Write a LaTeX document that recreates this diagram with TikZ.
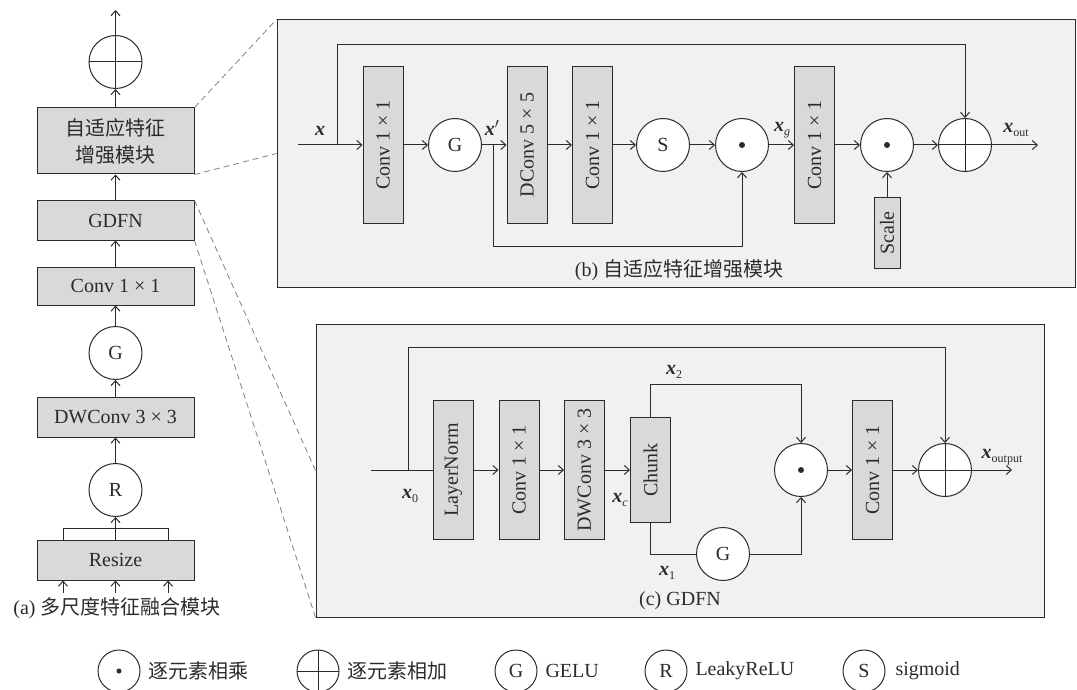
\documentclass[tikz,border=0pt]{standalone}
\usepackage{fontspec}
\usepackage{graphicx}
\setmainfont{Liberation Serif}
\newfontfamily\cjk{Noto Sans CJK SC}
\usetikzlibrary{arrows.meta}
\definecolor{linec}{HTML}{2B2B2B}
\definecolor{boxc}{HTML}{D9D9D9}
\definecolor{panelc}{HTML}{F0F1F3}
\newcommand{\bx}{{\bfseries\itshape x}}
\newcommand{\bxs}[1]{\bx\raisebox{-.5ex}{\fontsize{12}{12}\selectfont #1}}

\begin{document}
\begin{tikzpicture}[x=1pt,y=-1pt,color=linec,line width=1pt,font=\fontsize{20}{24}\selectfont,
 >={Straight Barb[length=5pt,width=9pt]},
 blk/.style={draw,fill=boxc,minimum width=157pt,inner sep=0pt,align=center},
 vblk/.style={draw,fill=boxc,minimum width=40pt,minimum height=157pt,inner sep=0pt},
 sblk/.style={draw,fill=boxc,minimum width=26pt,minimum height=70pt,inner sep=0pt},
 panel/.style={draw,fill=panelc,inner sep=0pt},
 op/.style={draw,fill=white,circle,minimum size=53pt,inner sep=0pt},
 addop/.style={op,path picture={\draw (path picture bounding box.north)--(path picture bounding box.south) (path picture bounding box.west)--(path picture bounding box.east);}},
 mulop/.style={op,path picture={\fill[linec] (path picture bounding box.center) circle (3pt);}},
 lop/.style={draw,circle,minimum size=42pt,inner sep=0pt},
 ladd/.style={lop,path picture={\draw (path picture bounding box.north)--(path picture bounding box.south) (path picture bounding box.west)--(path picture bounding box.east);}},
 lmul/.style={lop,path picture={\fill[linec] (path picture bounding box.center) circle (2.5pt);}},
 ltxt/.style={anchor=west,inner sep=0pt},
 zoomln/.style={draw=gray,line width=.8pt,dash pattern=on 6pt off 4pt}]
\useasboundingbox (0,0) rectangle (1077,690);
% (a) left column
\node[addop] (adda) at (115.5,62) {};
\node[blk,minimum height=66pt,font=\cjk\fontsize{20}{27}\selectfont] (aefe) at (115.5,141) {自适应特征\\增强模块};
\node[blk,minimum height=39pt] (gdfn) at (115.5,220.5) {GDFN};
\node[blk,minimum height=38pt] (conva) at (115.5,286) {Conv 1 × 1};
\node[op] (ga) at (115.5,353) {G};
\node[blk,minimum height=40pt] (dwa) at (115.5,417) {DWConv 3 × 3};
\node[op] (ra) at (115.5,490) {R};
\node[blk,minimum height=40pt] (resize) at (115.5,560) {Resize};
\coordinate (top) at (115.5,10);
\coordinate (brl) at (63,528);
\coordinate (brr) at (168,528);
\coordinate (in1) at (63,593);
\coordinate (in2) at (115.5,593);
\coordinate (in3) at (168,593);
\node (capa) at (117,608) {(a) {\cjk 多尺度特征融合模块}};
\foreach \i in {1,2,3} \draw[->] (in\i) -- (in\i |- resize.south);
\draw (brl |- resize.north) -- (brl) -- (brr) -- (brr |- resize.north);
\draw[->] (resize) -- (ra);
\draw[->] (ra) -- (dwa);
\draw[->] (dwa) -- (ga);
\draw[->] (ga) -- (conva);
\draw[->] (conva) -- (gdfn);
\draw[->] (gdfn) -- (aefe);
\draw[->] (aefe) -- (adda);
\draw[->] (adda) -- (top);
% (b) panel
\node[panel,minimum width=798pt,minimum height=267pt] (panb) at (676,153.5) {};
\draw[zoomln] (aefe.north east) -- (panb.north west);
\draw[zoomln] (aefe.south east) -- (panb.west);
\coordinate (inb) at (298,145);
\coordinate (skb) at (337,145);
\coordinate (xpb) at (493,145);
\coordinate (outb) at (1038,145);
\node[vblk] (cb1) at (383,145) {\rotatebox{90}{Conv 1 × 1}};
\node[op] (gb) at (455,145) {G};
\node[vblk] (dcb) at (527,145) {\rotatebox{90}{DConv 5 × 5}};
\node[vblk] (cb2) at (592.5,145) {\rotatebox{90}{Conv 1 × 1}};
\node[op] (sb) at (663,145) {S};
\node[mulop] (mb1) at (742,145) {};
\node[vblk] (cb3) at (814.5,145) {\rotatebox{90}{Conv 1 × 1}};
\node[mulop] (mb2) at (887,145) {};
\node[sblk] (scale) at (887,233) {\rotatebox{90}{Scale}};
\node[addop] (ab) at (965,145) {};
\node (lx) at (320,131) {\bx};
\node (lxp) at (492,128) {\bx$'$};
\node (lxg) at (782,130) {\bxs{\itshape g}};
\node (lxo) at (1016,130) {\bxs{out}};
\node (capb) at (679,270) {(b) {\cjk 自适应特征增强模块}};
\draw[->] (inb) -- (cb1);
\draw[->] (skb) -- ++(0,-100) -| (ab);
\draw[->] (cb1) -- (gb);
\draw[->] (gb) -- (dcb);
\draw[->] (xpb) -- ++(0,101) -| (mb1);
\draw[->] (dcb) -- (cb2);
\draw[->] (cb2) -- (sb);
\draw[->] (sb) -- (mb1);
\draw[->] (mb1) -- (cb3);
\draw[->] (cb3) -- (mb2);
\draw[->] (scale) -- (mb2);
\draw[->] (mb2) -- (ab);
\draw[->] (ab) -- (outb);
% (c) panel
\node[panel,minimum width=728pt,minimum height=293pt] (panc) at (680,470.5) {};
\draw[zoomln] (gdfn.north east) -- (panc.west);
\draw[zoomln] (gdfn.south east) -- (panc.south west);
\coordinate (inc) at (371,470);
\coordinate (skc) at (408,470);
\coordinate (outc) at (1012,470);
\node[vblk,minimum height=139pt] (ln) at (453.5,470) {\rotatebox{90}{LayerNorm}};
\node[vblk,minimum height=139pt] (cc1) at (519,470) {\rotatebox{90}{Conv 1 × 1}};
\node[vblk,minimum height=139pt] (dwc) at (584.5,470) {\rotatebox{90}{DWConv 3 × 3}};
\node[vblk,minimum height=105pt] (chunk) at (650.5,470) {\rotatebox{90}{Chunk}};
\node[mulop] (mc) at (801,470) {};
\node[op] (gc) at (723,554) {G};
\node[vblk,minimum height=139pt] (cc2) at (872.5,470) {\rotatebox{90}{Conv 1 × 1}};
\node[addop] (ac) at (945,470) {};
\node (lx0) at (410,496) {\bxs{0}};
\node (lxc) at (620,500) {\bxs{\itshape c}};
\node (lx2) at (674,372) {\bxs{2}};
\node (lx1) at (667,573) {\bxs{1}};
\node (lxout) at (1002,457) {\bxs{output}};
\node (capc) at (680,601) {(c) GDFN};
\draw (inc) -- (ln);
\draw[->] (skc) -- ++(0,-123) -| (ac);
\draw[->] (ln) -- (cc1);
\draw[->] (cc1) -- (dwc);
\draw[->] (dwc) -- (chunk);
\draw[->] (chunk.north) -- ++(0,-33) -| (mc);
\draw (chunk.south) |- (gc);
\draw[->] (gc) -| (mc);
\draw[->] (mc) -- (cc2);
\draw[->] (cc2) -- (ac);
\draw[->] (ac) -- (outc);
% legend
\node[lmul] (kmul) at (119,671) {};
\node[ltxt] (tmul) at (148,671) {\cjk 逐元素相乘};
\node[ladd] (kadd) at (318,671) {};
\node[ltxt] (tadd) at (347,671) {\cjk 逐元素相加};
\node[lop] (kg) at (516,671) {G};
\node[ltxt] (tg) at (545,671) {GELU};
\node[lop] (kr) at (666,671) {R};
\node[ltxt] (tr) at (695,671) {LeakyReLU};
\node[lop] (ks) at (864,671) {S};
\node[ltxt] (ts) at (895,671) {sigmoid};
\end{tikzpicture}
\end{document}
